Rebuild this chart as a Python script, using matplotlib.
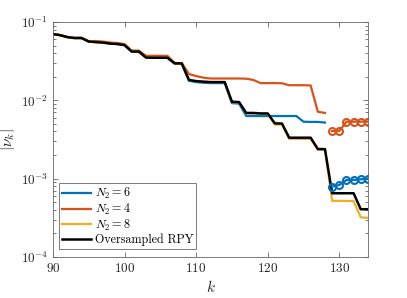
import numpy as np
import matplotlib
matplotlib.use("Agg")
import matplotlib.pyplot as plt

# eigenvalue index
k_line = np.arange(90, 129)   # plain lines
k_tail = np.arange(129, 135)  # marker part
k_full = np.arange(90, 135)

# |nu_k|
nu_n6 = [0.0703, 0.068, 0.0643, 0.0625, 0.0625, 0.0564, 0.0555, 0.0547, 0.0531, 0.0524, 0.0508,
         0.042, 0.042, 0.0351, 0.0349, 0.0349, 0.0349, 0.0295, 0.0294, 0.0178, 0.0171, 0.0168,
         0.0166, 0.0166, 0.0166, 0.0092, 0.0091, 0.0063, 0.0063, 0.0063, 0.0063, 0.0063, 0.0063,
         0.0063, 0.0063, 0.00533, 0.0053, 0.0053, 0.0052]
nu_n6_tail = [7.9e-4, 8.3e-4, 9.6e-4, 9.6e-4, 9.8e-4, 1.0e-3]

nu_n4 = [0.0703, 0.068, 0.0645, 0.0628, 0.0628, 0.0570, 0.0572, 0.0563, 0.0547, 0.0540, 0.0523,
         0.0432, 0.0432, 0.0371, 0.0371, 0.0371, 0.0370, 0.0300, 0.0299, 0.0217, 0.0204, 0.0195,
         0.0190, 0.0190, 0.0190, 0.0190, 0.0190, 0.0189, 0.0182, 0.0166, 0.0166, 0.0166, 0.0165,
         0.0156, 0.0156, 0.0156, 0.0155, 0.00715, 0.0069]
nu_n4_tail = [0.00406, 0.00406, 0.00533, 0.00533, 0.00533, 0.00533]

nu_n8 = [0.0703, 0.068, 0.0643, 0.0625, 0.0625, 0.0564, 0.0555, 0.0547, 0.0531, 0.0524, 0.0508,
         0.042, 0.042, 0.0352, 0.0350, 0.0350, 0.0350, 0.0297, 0.0296, 0.0182, 0.0176, 0.0173,
         0.0171, 0.0171, 0.0171, 0.0095, 0.0094, 0.0068, 0.0068, 0.0067, 0.0067, 0.0049, 0.0049,
         0.00322, 0.00322, 0.00322, 0.00322, 0.00234, 0.00233,
         5.2e-4, 5.2e-4, 5.18e-4, 5.15e-4, 3.2e-4, 3.15e-4]

nu_rpy = [0.0703, 0.068, 0.0643, 0.0625, 0.0625, 0.0564, 0.0555, 0.0547, 0.0531, 0.0524, 0.0508,
          0.042, 0.042, 0.0352, 0.0350, 0.0350, 0.0350, 0.0297, 0.0296, 0.0182, 0.0176, 0.0173,
          0.0171, 0.0171, 0.0171, 0.0096, 0.0095, 0.0069, 0.0069, 0.0068, 0.0068, 0.00508, 0.00505,
          0.00333, 0.00333, 0.00333, 0.00333, 0.00239, 0.00238,
          6.5e-4, 6.5e-4, 6.5e-4, 6.5e-4, 4.06e-4, 4.06e-4]

c_blue = "#0072BD"
c_orange = "#D95319"
c_yellow = "#EDB120"
c_ax = "#262626"

plt.rcParams["font.family"] = "serif"
plt.rcParams["font.serif"] = ["cmr10"]
plt.rcParams["mathtext.fontset"] = "cm"
plt.rcParams["axes.formatter.use_mathtext"] = True

fig = plt.figure(figsize=(4.07, 2.98), dpi=100)
ax = fig.add_axes([0.130, 0.138, 0.774, 0.788])

ax.plot(k_line, nu_n6, color=c_blue, lw=1.6, label=r"$N_2 = 6$")
ax.plot(k_line, nu_n4, color=c_orange, lw=1.6, label=r"$N_2 = 4$")
ax.plot(k_full, nu_n8, color=c_yellow, lw=1.6, label=r"$N_2 = 8$")
ax.plot(k_full, nu_rpy, color="k", lw=1.8, label="Oversampled RPY")
ax.plot(k_tail, nu_n6_tail, "-o", color=c_blue, lw=1.6, ms=5, mfc="none", mew=1.5)
ax.plot(k_tail, nu_n4_tail, "-o", color=c_orange, lw=1.6, ms=5, mfc="none", mew=1.5)

ax.set_yscale("log")
ax.set_xlim(90, 134)
ax.set_ylim(1e-4, 1e-1)
ax.set_xticks([90, 100, 110, 120, 130])

for s in ax.spines.values():
	s.set_color("#666666")
	s.set_linewidth(0.6)
ax.tick_params(which="both", direction="in", top=True, right=True, colors="#666666",
               labelcolor=c_ax, labelsize=9.5, width=0.6)
ax.tick_params(which="major", length=3.5)
ax.tick_params(which="minor", length=2)

ax.set_xlabel(r"$k$", fontsize=11, color=c_ax, labelpad=3)
ax.set_ylabel(r"$|\nu_k|$", fontsize=11, color=c_ax, labelpad=3)

leg = ax.legend(loc="lower left", bbox_to_anchor=(0.019, 0.034), fontsize=8.7,
                fancybox=False, edgecolor="#666666", framealpha=1, handlelength=2.4,
                labelspacing=0.05, borderpad=0.25, handletextpad=0.3, borderaxespad=0)
leg.get_frame().set_linewidth(0.6)

plt.savefig("out.png", dpi=100)
